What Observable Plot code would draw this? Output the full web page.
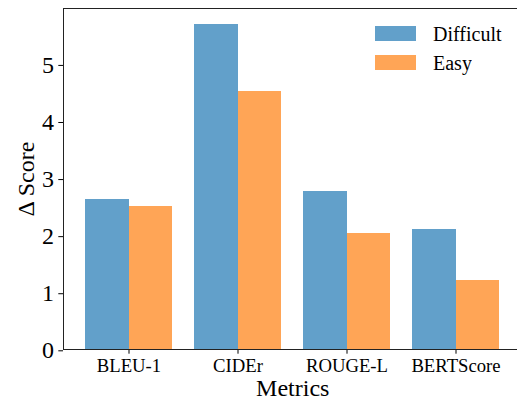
<!DOCTYPE html>
<html><head><meta charset="utf-8">
<script src="https://cdn.jsdelivr.net/npm/d3@7"></script>
<script src="https://cdn.jsdelivr.net/npm/@observablehq/plot@0.6"></script>
<style>
body{margin:0;overflow:hidden;background:#fff;}
#wrap{position:relative;width:517px;height:401px;overflow:hidden;background:#fff;}
#wrap svg, #wrap svg text{font-family:"Liberation Serif","DejaVu Serif",serif !important;}
#legend{position:absolute;left:375px;top:19.5px;width:140px;}
#legend div{font-family:"Liberation Serif","DejaVu Serif",serif !important;font-size:20px !important;line-height:28px !important;color:#000 !important;margin:0 !important;}
#legend svg{margin-right:17px !important;}
</style></head><body><div id="wrap"><div id="legend"></div></div>
<script>
const metrics = ["BLEU-1", "CIDEr", "ROUGE-L", "BERTScore"];
const series = ["Difficult", "Easy"];
const difficult = [2.63, 5.69, 2.76, 2.10];
const easy = [2.50, 4.52, 2.03, 1.21];
const colors = ["#62a0ca", "#ffa556"];
const yTicks = [0, 1, 2, 3, 4, 5];

const rows = metrics.flatMap((m, i) => [
  {metric: m, series: "Difficult", value: difficult[i]},
  {metric: m, series: "Easy", value: easy[i]}
]);

const font = "Liberation Serif";
const W = 522, H = 401, mL = 63, mR = 0.5, mT = 8, mB = 52;
const pIn = 0.2, pOut = 0.19;
const step = (W - mL - mR) / (metrics.length - pIn + 2 * pOut);
const half = step * (1 - pIn) / 2;
const yMax = d3.max(difficult.concat(easy)) * 1.05;

const chart = Plot.plot({
  width: W, height: H,
  marginLeft: mL, marginRight: mR, marginTop: mT, marginBottom: mB,
  style: {background: "white", maxWidth: "none", color: "#000"},
  x: {type: "band", domain: metrics, paddingInner: pIn, paddingOuter: pOut, axis: null},
  y: {domain: [0, yMax], axis: null},
  color: {type: "ordinal", domain: series, range: colors},
  marks: [
    Plot.barY(rows.filter(d => d.series === "Difficult"), {x: "metric", y: "value", fill: "series", insetRight: half - 0.5, shapeRendering: "crispEdges"}),
    Plot.barY(rows.filter(d => d.series === "Easy"), {x: "metric", y: "value", fill: "series", insetLeft: half, shapeRendering: "crispEdges"}),
    Plot.axisY({ticks: yTicks, tickSize: 4.7, tickPadding: 4.7, fontSize: 24, fontFamily: font, label: null, tickFormat: d => String(d), dy: 1.3}),
    Plot.axisX({tickSize: 4.7, tickPadding: 4.7, fontSize: 18.7, fontFamily: font, label: null}),
    Plot.frame({stroke: "#222", strokeWidth: 1}),
    Plot.text(["Metrics"], {text: d => d, frameAnchor: "bottom", dy: 46.7, lineAnchor: "bottom", fontSize: 24, fontFamily: font}),
    Plot.text(["Δ Score"], {text: d => d, frameAnchor: "left", textAnchor: "middle", dx: -30, rotate: -90, lineAnchor: "bottom", fontSize: 24, fontFamily: font})
  ]
});
document.getElementById("wrap").prepend(chart);

const legend = Plot.legend({
  color: {type: "ordinal", domain: series, range: colors},
  legend: "swatches", columns: 1, swatchWidth: 41, swatchHeight: 15
});
document.getElementById("legend").appendChild(legend);
</script>
</body></html>
